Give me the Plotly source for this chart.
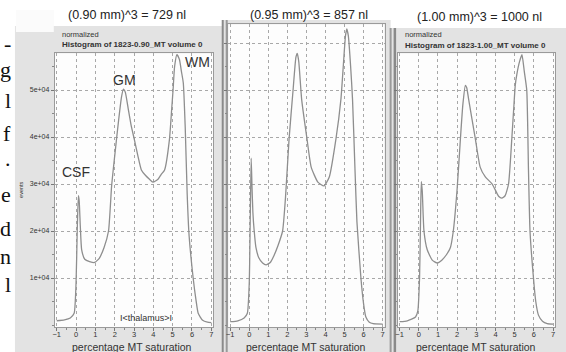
import plotly.graph_objects as go

W, H = 566, 352

# ---------------- data ----------------
panel_titles = ["(0.90 mm)^3 = 729 nl", "(0.95 mm)^3 = 857 nl", "(1.00 mm)^3 = 1000 nl"]
hist_titles = ["Histogram of 1823-0.90_MT volume 0", "Histogram of 1823-1.00_MT volume 0"]

x1 = [-1.0, -0.6, -0.3, -0.1, 0.0, 0.06, 0.12, 0.16, 0.22, 0.29, 0.45, 0.7, 0.96, 1.2, 1.45,
      1.68, 1.84, 2.0, 2.2, 2.35, 2.45, 2.55, 2.7, 2.85, 3.02, 3.2, 3.38, 3.6, 3.8, 3.98,
      4.24, 4.4, 4.58, 4.83, 4.95, 5.02, 5.1, 5.22, 5.35, 5.45, 5.55, 5.65, 5.75, 5.85, 6.06,
      6.2, 6.32, 6.55, 6.8, 7.0]
y1 = [900, 1100, 1500, 2500, 9000, 20000, 27500, 26500, 21000, 16000, 14000, 13500, 13300, 14200, 16500,
      20000, 29600, 36000, 43500, 48500, 50200, 49500, 46000, 42500, 39400, 36000, 33000, 31800, 31000, 30400,
      31000, 32000, 33000, 39400, 46000, 50000, 55000, 57500, 56500, 54000, 51500, 42000, 28000, 19000, 10000,
      5500, 2500, 1000, 600, 500]

x2 = [-1.0, -0.6, -0.27, -0.1, 0.0, 0.05, 0.1, 0.14, 0.19, 0.26, 0.35, 0.5, 0.7, 0.88, 1.1, 1.3, 1.5,
      1.75, 1.9, 2.09, 2.3, 2.45, 2.52, 2.6, 2.75, 3.03, 3.25, 3.6, 3.92, 4.2, 4.55, 4.81, 4.95, 5.05,
      5.12, 5.2, 5.32, 5.42, 5.55, 5.65, 5.86, 6.0, 6.12, 6.3, 6.5, 7.0]
y2 = [700, 900, 1500, 2500, 9000, 22000, 35500, 30000, 24000, 20000, 16500, 14300, 13200, 12800, 13300,
      14800, 16800, 20000, 27000, 39600, 50000, 57000, 57800, 56000, 48000, 39600, 33600, 30400, 29600,
      31500, 39600, 48000, 56000, 61500, 63000, 61500, 55000, 48000, 33000, 22000, 10000, 4500, 1700,
      600, 300, 200]

x3 = [-1.0, -0.6, -0.17, -0.05, 0.04, 0.09, 0.13, 0.18, 0.27, 0.44, 0.7, 0.96, 1.2, 1.45, 1.65, 1.8,
      2.0, 2.17, 2.3, 2.43, 2.5, 2.6, 2.95, 3.2, 3.47, 3.83, 4.16, 4.33, 4.5, 4.68, 4.85, 4.95, 5.03,
      5.12, 5.25, 5.38, 5.5, 5.63, 5.72, 5.8, 5.98, 6.1, 6.24, 6.45, 6.7, 7.0]
y3 = [700, 900, 1700, 3000, 10000, 22000, 30500, 28500, 20000, 16000, 13800, 13200, 13800, 15000, 16500,
      20000, 29000, 39600, 47000, 51000, 50500, 48000, 39600, 33600, 31500, 30000, 27400, 27000, 27500,
      30000, 39600, 46000, 51000, 53500, 56000, 57500, 54000, 50000, 33000, 20000, 10000, 5000, 2100,
      800, 300, 200]

ytick_vals = [10000, 20000, 30000, 40000, 50000]
ytick_text = ["1e+04", "2e+04", "3e+04", "4e+04", "5e+04"]
x_title = "percentage MT saturation"
y_title = "events"
peak_labels = ["CSF", "GM", "WM"]
region_label = "I<thalamus>I"
side_letters = ["-", "g", "l", "f", ".", "e", "d", "n", "l"]

# ---------------- layout helpers ----------------
def fx(px):
    return px / W

def fy(py):
    return 1 - py / H

SANS = "Liberation Sans, Arial, sans-serif"
SERIF = "Liberation Serif, Times New Roman, serif"
LINE = "#8e8e8e"
GRID = "#a8a8a8"

bottom_px = 327.35
panels = [
    dict(x0=53.0, x1=212.0, top=53.35, yr=[-500, 57800], yt=ytick_vals),
    dict(x0=227.1, x1=383.9, top=24.2, yr=[-500, 64000], yt=ytick_vals + [60000]),
    dict(x0=397.1, x1=554.9, top=53.35, yr=[-500, 57800], yt=ytick_vals),
]
series = [(x1, y1), (x2, y2), (x3, y3)]

fig = go.Figure()
for i, ((xs, ys), p) in enumerate(zip(series, panels)):
    n = "" if i == 0 else str(i + 1)
    fig.add_trace(go.Scatter(x=xs, y=ys, mode="lines", xaxis="x" + n, yaxis="y" + n,
                             line=dict(color=LINE, width=1.3, shape="spline", smoothing=0.5),
                             showlegend=False, hoverinfo="skip"))
    fig.layout["xaxis" + n] = dict(
        domain=[fx(p["x0"]), fx(p["x1"])], range=[-1.1, 7.1], anchor="y" + n,
        tickmode="linear", tick0=-1, dtick=1, ticks="outside", ticklen=3, tickcolor="#777",
        tickfont=dict(family=SANS, size=7.5, color="#333"), ticklabelstandoff=-3,
        showgrid=True, gridcolor=GRID, griddash="dot", gridwidth=1,
        showline=True, linecolor="#9a9a9a", linewidth=1, mirror=True, zeroline=False,
        minor=dict(tickmode="linear", tick0=-1, dtick=0.5, ticks="outside", ticklen=2,
                   tickcolor="#888", showgrid=False),
        fixedrange=True,
    )
    fig.layout["yaxis" + n] = dict(
        domain=[fy(bottom_px), fy(p["top"])], range=p["yr"], anchor="x" + n,
        tickmode="array", tickvals=p["yt"], ticktext=ytick_text + ["6e+04"] if i == 1 else ytick_text,
        showticklabels=(i == 0), ticks="outside", ticklen=3, tickcolor="#777",
        tickfont=dict(family=SANS, size=7, color="#333"),
        showgrid=True, gridcolor=GRID, griddash="dot", gridwidth=1,
        showline=True, linecolor="#9a9a9a", linewidth=1, mirror=True, zeroline=False,
        minor=dict(tickmode="linear", tick0=0, dtick=5000, ticks="outside", ticklen=2,
                   tickcolor="#888", showgrid=False),
        fixedrange=True,
    )

# ---------------- background frames ----------------
shapes = []
def rect(x0, y0, x1_, y1_, color):
    shapes.append(dict(type="rect", xref="paper", yref="paper", layer="below",
                       x0=fx(x0), x1=fx(x1_), y0=fy(y1_), y1=fy(y0),
                       fillcolor=color, line=dict(width=0)))

GRAY = "#e3e3e3"
rect(13, 26, 221, 352, GRAY)
rect(14, 10, 52, 32, "#fbfbfb")
rect(221, 20, 390, 352, GRAY)
rect(390, 28, 566, 352, GRAY)
# dark window bars
rect(220.5, 20, 222.5, 352, "#8a8a8a")
rect(224.5, 20, 226.5, 352, "#9a9a9a")
rect(389.0, 28, 391.0, 352, "#9a9a9a")
rect(393.0, 28, 395.5, 352, "#8a8a8a")
# plot areas
for p in panels:
    rect(p["x0"], p["top"], p["x1"], bottom_px, "#fdfdfd")

# ---------------- annotations ----------------
ann = []
def text(x, y, s, size, color="#222", family=SANS, xanchor="center", yanchor="middle",
         angle=0, bold=False):
    ann.append(dict(xref="paper", yref="paper", x=fx(x), y=fy(y), text=("<b>%s</b>" % s) if bold else s,
                    showarrow=False, xanchor=xanchor, yanchor=yanchor, textangle=angle,
                    font=dict(family=family, size=size, color=color)))

for (cx, cy), t in zip([(125, 15), (308.5, 15), (479, 17)], panel_titles):
    text(cx, cy, t, 12.5)

text(58, 35, "normalized", 7.5, "#333", xanchor="left")
text(58, 44, hist_titles[0], 8, "#333", xanchor="left", bold=True)
text(402, 35, "normalized", 7.5, "#333", xanchor="left")
text(402, 46, hist_titles[1], 8, "#333", xanchor="left", bold=True)

text(74, 172, peak_labels[0], 14, "#333")
text(123, 80, peak_labels[1], 14, "#333")
text(196, 62, peak_labels[2], 14, "#333")
text(145, 318, region_label, 9, "#333")

for cx in [130, 305, 476]:
    text(cx, 346.5, x_title, 10.5, "#333")

text(19, 190, y_title, 5.5, "#333", angle=-90)

for ly, ch in zip([43, 69, 101, 134, 158, 194, 228, 256, 284], side_letters):
    text(11, ly, ch, 22, "#111", family=SERIF, xanchor="right")

fig.update_layout(
    width=W, height=H, margin=dict(l=0, r=0, t=0, b=0),
    paper_bgcolor="white", plot_bgcolor="rgba(0,0,0,0)",
    shapes=shapes, annotations=ann, showlegend=False,
)

fig.write_html("out.html", config={"displayModeBar": False},
               post_script="document.body.style.margin='0';document.body.style.overflow='hidden';")
